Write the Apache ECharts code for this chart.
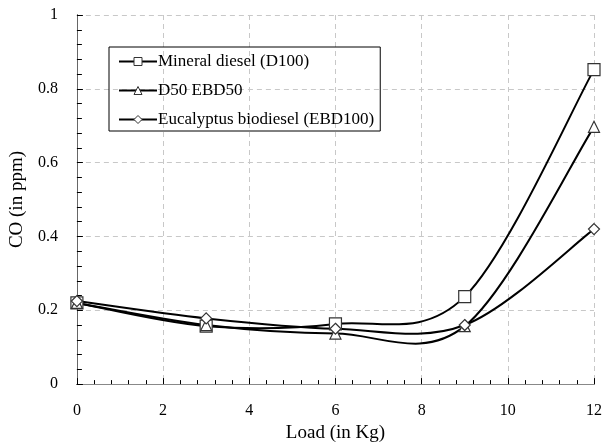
<!DOCTYPE html>
<html><head><meta charset="utf-8">
<script src="https://cdn.jsdelivr.net/npm/echarts@6/dist/echarts.min.js"></script>
<style>html,body{margin:0;padding:0;background:#fff}#c{width:605px;height:448px}</style>
</head><body><div id="c"></div>
<script>
const loads = [0, 3, 6, 9, 12];
const seriesNames = ['Mineral diesel (D100)', 'D50 EBD50', 'Eucalyptus biodiesel (EBD100)'];
const d100 = [0.22, 0.157, 0.163, 0.237, 0.852];
const d50 = [0.22, 0.16, 0.137, 0.157, 0.697];
const ebd100 = [0.225, 0.178, 0.15, 0.16, 0.42];
const markers = ['rect', 'triangle', 'diamond'];
const markerSizes = [12, 11, 11];
const xTicks = [0, 2, 4, 6, 8, 10, 12];
const yTicks = [0, 0.2, 0.4, 0.6, 0.8, 1];

const font = '"Liberation Serif", "Times New Roman", serif';
const values = [d100, d50, ebd100];

// Excel-style smoothed line (Catmull-Rom as cubic Bezier), positioned via the chart's own coords
function smoothRenderer(vals) {
  return function (params, api) {
    if (params.dataIndex !== 0) return null;
    const pts = loads.map((x, j) => [x, vals[j]]);
    const children = [];
    for (let k = 0; k < pts.length - 1; k++) {
      const p0 = pts[k - 1] || pts[k], p1 = pts[k], p2 = pts[k + 1], p3 = pts[k + 2] || pts[k + 1];
      const c1 = [p1[0] + (p2[0] - p0[0]) / 6, p1[1] + (p2[1] - p0[1]) / 6];
      const c2 = [p2[0] - (p3[0] - p1[0]) / 6, p2[1] - (p3[1] - p1[1]) / 6];
      const a = api.coord(p1), b = api.coord(p2), q1 = api.coord(c1), q2 = api.coord(c2);
      children.push({
        type: 'bezierCurve',
        shape: {x1: a[0], y1: a[1], x2: b[0], y2: b[1], cpx1: q1[0], cpy1: q1[1], cpx2: q2[0], cpy2: q2[1]},
        style: {stroke: '#000', lineWidth: 2, fill: null}
      });
    }
    return {type: 'group', children};
  };
}

const chart = echarts.init(document.getElementById('c'), null, {renderer: 'canvas'});
const lineSeries = seriesNames.map((n, i) => ({
  name: n, type: 'line',
  data: loads.map((x, j) => [x, values[i][j]]),
  symbol: markers[i], symbolSize: markerSizes[i], showAllSymbol: true,
  lineStyle: {color: '#000', width: 2, opacity: 0},
  itemStyle: {color: '#fff', borderColor: '#333', borderWidth: 1.2},
  z: 5
}));
const curveSeries = seriesNames.map((n, i) => ({
  name: 'curve' + i, type: 'custom', coordinateSystem: 'cartesian2d',
  data: loads.map((x, j) => [x, values[i][j]]),
  renderItem: smoothRenderer(values[i]),
  silent: true, z: 3
}));

chart.setOption({
  animation: false,
  backgroundColor: '#fff',
  textStyle: {fontFamily: font, color: '#000'},
  grid: {left: 70, right: 7, top: 15, bottom: 48, containLabel: false},
  legend: {
    orient: 'vertical', left: 109, top: 47,
    data: seriesNames.map(n => ({name: n})),
    lineStyle: {color: '#000', width: 2, opacity: 1},
    itemStyle: {color: '#fff', borderColor: '#333', borderWidth: 1},
    borderColor: '#000', borderWidth: 1, padding: [6, 6, 3, 9],
    itemGap: 12, itemWidth: 38, itemHeight: 10,
    textStyle: {fontFamily: font, fontSize: 17, color: '#000', padding: [0, 0, 0, -4]}
  },
  xAxis: [{
    type: 'value', min: xTicks[0], max: xTicks[xTicks.length - 1], interval: 2,
    name: 'Load (in Kg)', nameLocation: 'middle', nameGap: 29,
    nameTextStyle: {fontFamily: font, fontSize: 19, color: '#000'},
    axisLine: {show: true, lineStyle: {color: '#000', width: 1}},
    axisTick: {show: true, inside: true, length: 6, lineStyle: {color: '#000'}},
    minorTick: {show: true, splitNumber: 5, length: 4, lineStyle: {color: '#000'}},
    axisLabel: {margin: 19, fontFamily: font, fontSize: 16, color: '#000'},
    splitLine: {show: true, lineStyle: {color: '#c8c8c8', type: [5, 4]}}
  }, {
    type: 'value', position: 'top', min: 0, max: 12,
    axisLine: {show: true, lineStyle: {color: '#888', width: 1}},
    axisTick: {show: false}, axisLabel: {show: false}, splitLine: {show: false}
  }],
  yAxis: [{
    type: 'value', min: yTicks[0], max: yTicks[yTicks.length - 1], interval: 0.2,
    name: 'CO (in ppm)', nameLocation: 'middle', nameGap: 37, nameRotate: 90,
    nameTextStyle: {fontFamily: font, fontSize: 19, color: '#000'},
    axisLine: {show: true, lineStyle: {color: '#000', width: 1}},
    axisTick: {show: true, inside: true, length: 6, lineStyle: {color: '#000'}},
    minorTick: {show: true, splitNumber: 5, length: 5, lineStyle: {color: '#000'}},
    axisLabel: {margin: 19, fontFamily: font, fontSize: 16, color: '#000'},
    splitLine: {show: true, lineStyle: {color: '#c8c8c8', type: [5, 4]}}
  }, {
    type: 'value', position: 'right', min: 0, max: 1,
    axisLine: {show: true, lineStyle: {color: '#666', width: 1}},
    axisTick: {show: false}, axisLabel: {show: false}, splitLine: {show: false}
  }],
  series: curveSeries.concat(lineSeries)
});
</script></body></html>
